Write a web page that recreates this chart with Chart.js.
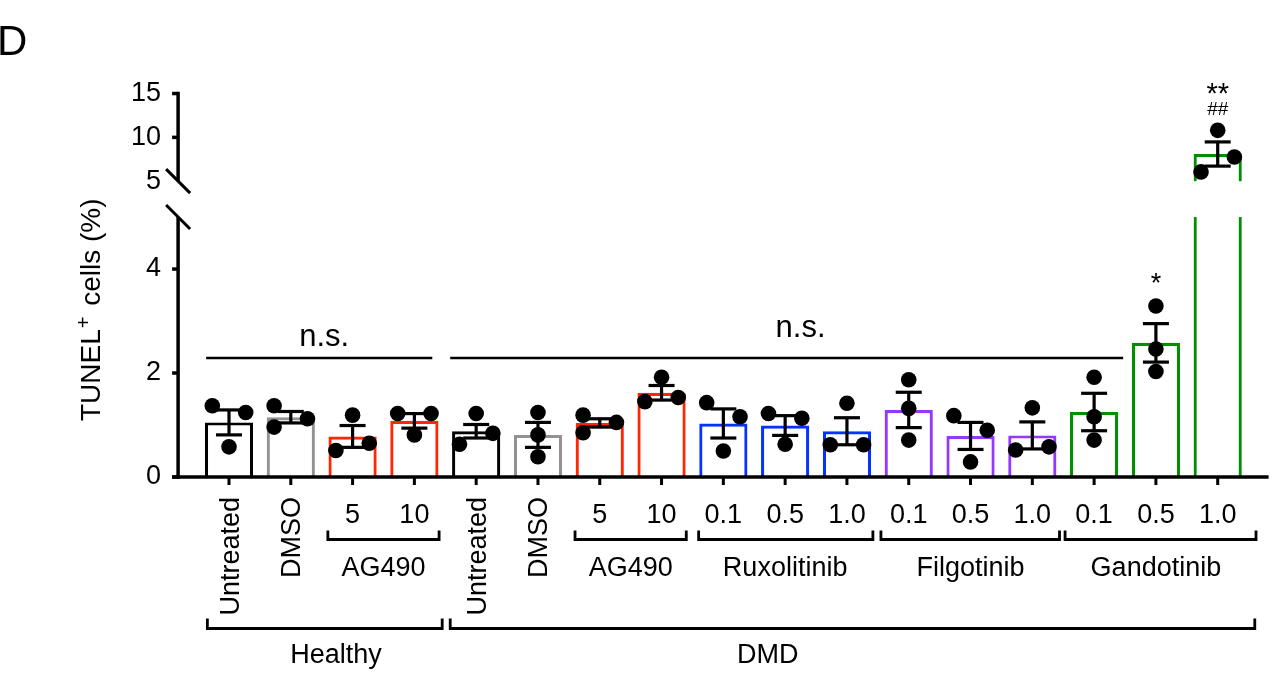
<!DOCTYPE html>
<html>
<head>
<meta charset="utf-8">
<script src="https://cdn.jsdelivr.net/npm/chart.js@4.4.1/dist/chart.umd.min.js"></script>
<style>
  html, body { margin: 0; padding: 0; background: #fff; }
  #wrap { width: 1276px; height: 679px; position: relative; }
</style>
</head>
<body>
<div id="wrap"><canvas id="chart"></canvas></div>
<script>
// ---- data ----
const categories = ['Untreated', 'DMSO', '5', '10', 'Untreated', 'DMSO', '5', '10',
    '0.1', '0.5', '1.0', '0.1', '0.5', '1.0', '0.1', '0.5', '1.0'];
const means = [1.05, 1.15, 0.78, 1.08, 0.88, 0.81, 1.04, 1.62, 1.03, 0.99, 0.88, 1.29, 0.79, 0.80, 1.25, 2.58, 8.1];
const sems = [0.24, 0.11, 0.21, 0.14, 0.13, 0.24, 0.08, 0.14, 0.28, 0.19, 0.26, 0.34, 0.26, 0.26, 0.36, 0.37, 1.38];
const replicates = [
    [1.37, 1.24, 0.58], [1.37, 1.12, 0.96], [1.19, 0.51, 0.65], [1.22, 1.22, 0.81],
    [1.22, 0.63, 0.84], [1.24, 0.81, 0.39], [0.85, 1.05, 1.19], [1.92, 1.45, 1.53],
    [1.43, 1.16, 0.50], [1.22, 1.13, 0.63], [1.42, 0.62, 0.62], [1.87, 1.32, 0.71],
    [1.18, 0.90, 0.29], [1.33, 0.52, 0.58], [1.92, 1.16, 0.71], [3.29, 2.46, 2.03],
    [10.8, 6.06, 7.76]
];
const yTicks = [0, 2, 4, 5, 10, 15];
const doseGroups = [
    { name: 'AG490', from: 1.6, to: 3.4, labelAt: 2.5 },
    { name: 'AG490', from: 5.6, to: 7.4, labelAt: 6.5 },
    { name: 'Ruxolitinib', from: 7.6, to: 10.42, labelAt: 9 },
    { name: 'Filgotinib', from: 10.55, to: 13.44, labelAt: 12 },
    { name: 'Gandotinib', from: 13.53, to: 16.62, labelAt: 15 }
];
const cohorts = [
    { name: 'Healthy', from: -0.35, to: 3.45, labelAt: 1.73 },
    { name: 'DMD', from: 3.58, to: 16.6, labelAt: 8.72 }
];
const nsLines = [
    { from: -0.37, to: 3.29, at: 2.29, textAt: 1.54, textY: 2.52 },
    { from: 3.58, to: 14.47, at: 2.29, textAt: 9.25, textY: 2.69 }
];
const marks = [
    { idx: 15, text: '*', y: 3.83, size: 27 },
    { idx: 16, text: '**', y: 15.6, size: 29 },
    { idx: 16, text: '##', y: 13.3, size: 19 }
];

const barColors = ['#000000', '#929292', '#FF2600', '#FF2600', '#000000', '#929292', '#FF2600', '#FF2600',
    '#0433FF', '#0433FF', '#0433FF', '#9437FF', '#9437FF', '#9437FF', '#008F00', '#008F00', '#008F00'];

// broken y axis: 0-5 at full scale, 5-15 compressed above a gap
const BREAK_LOW = 5;
const UPPER_BASE = 5.69;
const UPPER_SCALE = 0.1686;
const tf = v => v < BREAK_LOW ? v : UPPER_BASE + (v - BREAK_LOW) * UPPER_SCALE;

const FONT = '"Liberation Sans", Arial, Helvetica, sans-serif';
const font = (size, weight) => (weight || 'normal') + ' ' + size + 'px ' + FONT;

function centeredText(ctx, text, x, cy) {
    ctx.textAlign = 'center';
    ctx.textBaseline = 'alphabetic';
    const m = ctx.measureText(text);
    ctx.fillText(text, x, cy + (m.actualBoundingBoxAscent - m.actualBoundingBoxDescent) / 2);
}

function line(ctx, x1, y1, x2, y2) {
    ctx.beginPath();
    ctx.moveTo(x1, y1);
    ctx.lineTo(x2, y2);
    ctx.stroke();
}

// spread replicate dots that would overlap into side columns
function dotColumns(py) {
    const order = py.map((v, k) => k).sort((a, b) => py[a] - py[b]);
    const cols = py.map(() => 0);
    let cluster = [order[0]];
    const flush = () => {
        if (cluster.length > 1) {
            cluster.sort((a, b) => a - b).forEach((k, j) => cols[k] = j % 2 === 0 ? -1 : 1);
        }
    };
    for (let j = 1; j < order.length; j++) {
        if (py[order[j]] - py[order[j - 1]] < 17) cluster.push(order[j]);
        else { flush(); cluster = [order[j]]; }
    }
    flush();
    return cols;
}

const figurePlugin = {
    id: 'figure',
    afterDatasetsDraw(chart) {
        const ctx = chart.ctx;
        const xs = chart.scales.x, ys = chart.scales.y;
        const X = i => xs.getPixelForValue(i);
        const Y = v => ys.getPixelForValue(tf(v));
        const gapTop = ys.getPixelForValue(UPPER_BASE);
        const gapBottom = ys.getPixelForValue(BREAK_LOW);
        const bars = chart.getDatasetMeta(0).data;
        const catW = X(1) - X(0);

        ctx.save();
        // cut bars crossing the break
        bars.forEach((bar, i) => {
            if (means[i] > BREAK_LOW) {
                ctx.fillStyle = '#fff';
                ctx.fillRect(bar.x - bar.width / 2 - 3, gapTop, bar.width + 6, gapBottom - gapTop);
            }
        });

        ctx.strokeStyle = '#000';
        ctx.fillStyle = '#000';
        ctx.lineWidth = 3.2;
        means.forEach((m, i) => {
            const x = X(i);
            const top = Y(m + sems[i]), bot = Y(m - sems[i]);
            line(ctx, x, top, x, bot);
            line(ctx, x - 13, top, x + 13, top);
            line(ctx, x - 13, bot, x + 13, bot);

            const py = replicates[i].map(Y);
            const cols = dotColumns(py);
            py.forEach((y, k) => {
                ctx.beginPath();
                ctx.arc(x + cols[k] * catW * 0.27, y, 7.8, 0, Math.PI * 2);
                ctx.fill();
            });
        });
        ctx.restore();
    },
    afterDraw(chart) {
        const ctx = chart.ctx;
        const area = chart.chartArea;
        const xs = chart.scales.x, ys = chart.scales.y;
        const X = i => xs.getPixelForValue(i);
        const Y = v => ys.getPixelForValue(tf(v));
        const gapTop = ys.getPixelForValue(UPPER_BASE);
        const gapBottom = ys.getPixelForValue(BREAK_LOW);
        const ax = area.left - 20;
        const base = Y(0);

        ctx.save();
        ctx.strokeStyle = '#000';
        ctx.fillStyle = '#000';
        ctx.lineCap = 'butt';

        // y axis with break
        ctx.lineWidth = 3.5;
        line(ctx, ax, base + 1.75, ax, gapBottom);
        line(ctx, ax, gapTop, ax, Y(15) - 1.75);
        yTicks.forEach(v => {
            if (v !== BREAK_LOW) line(ctx, ax - 6, Y(v), ax, Y(v));
        });
        ctx.lineWidth = 3;
        line(ctx, ax - 12, gapTop - 12, ax + 12, gapTop + 12);
        line(ctx, ax - 12, gapBottom - 12, ax + 12, gapBottom + 12);

        // x axis
        ctx.lineWidth = 3.5;
        line(ctx, ax - 6, base, area.right + 20, base);
        ctx.lineWidth = 3;
        categories.forEach((c, i) => line(ctx, X(i), base, X(i), base + 8));

        // category labels
        ctx.font = font(27);
        categories.forEach((c, i) => {
            if (isNaN(parseFloat(c))) {
                ctx.save();
                ctx.translate(X(i), base + 20);
                ctx.rotate(-Math.PI / 2);
                ctx.textAlign = 'right';
                ctx.textBaseline = 'alphabetic';
                const m = ctx.measureText(c);
                ctx.fillText(c, 0, (m.actualBoundingBoxAscent - m.actualBoundingBoxDescent) / 2);
                ctx.restore();
            } else {
                centeredText(ctx, c, X(i), base + 36.5);
            }
        });

        // brackets
        const catW = X(1) - X(0);
        const P = v => X(0) + v * catW;
        ctx.lineWidth = 2.8;
        doseGroups.forEach(g => {
            const y = base + 62.5;
            ctx.beginPath();
            ctx.moveTo(P(g.from), y - 9);
            ctx.lineTo(P(g.from), y);
            ctx.lineTo(P(g.to), y);
            ctx.lineTo(P(g.to), y - 9);
            ctx.stroke();
            ctx.textAlign = 'center';
            ctx.textBaseline = 'alphabetic';
            ctx.fillText(g.name, P(g.labelAt), base + 99);
        });
        cohorts.forEach(g => {
            const y = base + 151.5;
            ctx.beginPath();
            ctx.moveTo(P(g.from), y - 10);
            ctx.lineTo(P(g.from), y);
            ctx.lineTo(P(g.to), y);
            ctx.lineTo(P(g.to), y - 10);
            ctx.stroke();
            ctx.textAlign = 'center';
            ctx.textBaseline = 'alphabetic';
            ctx.fillText(g.name, P(g.labelAt), base + 186);
        });

        // n.s. lines
        ctx.lineWidth = 2.4;
        ctx.font = font(31);
        nsLines.forEach(n => {
            line(ctx, P(n.from), Y(n.at), P(n.to), Y(n.at));
            ctx.textAlign = 'center';
            ctx.textBaseline = 'alphabetic';
            ctx.fillText('n.s.', P(n.textAt), Y(n.textY));
        });

        // significance marks
        marks.forEach(s => {
            ctx.font = font(s.size);
            centeredText(ctx, s.text, X(s.idx), Y(s.y));
        });

        // y title with superscript
        ctx.save();
        ctx.translate(100, 421);
        ctx.rotate(-Math.PI / 2);
        ctx.textAlign = 'left';
        ctx.textBaseline = 'alphabetic';
        ctx.font = font(28);
        ctx.fillText('TUNEL', 0, 0);
        let w = ctx.measureText('TUNEL').width;
        ctx.font = font(20);
        ctx.fillText('+', w + 1, -10);
        w += ctx.measureText('+').width + 1;
        ctx.font = font(28);
        ctx.fillText(' cells (%)', w + 3, 0);
        ctx.restore();

        // panel letter
        ctx.font = font(42);
        ctx.textAlign = 'left';
        ctx.textBaseline = 'alphabetic';
        ctx.fillText('D', -3, 55);
        ctx.restore();
    }
};

new Chart(document.getElementById('chart'), {
    type: 'bar',
    data: {
        labels: categories,
        datasets: [{
            data: means.map(tf),
            backgroundColor: '#ffffff',
            borderColor: barColors,
            borderWidth: 3.2,
            barPercentage: 0.78,
            categoryPercentage: 1.0
        }]
    },
    options: {
        responsive: true,
        maintainAspectRatio: false,
        animation: false,
        layout: { padding: { top: 76, bottom: 202, left: 0, right: 27.4 } },
        plugins: {
            legend: { display: false },
            tooltip: { enabled: false }
        },
        scales: {
            x: {
                display: false,
                offset: true
            },
            y: {
                min: 0,
                max: tf(17),
                afterFit: s => { s.width = 198.1; },
                afterBuildTicks: s => { s.ticks = yTicks.map(v => ({ value: tf(v) })); },
                grid: { display: false, drawTicks: false },
                border: { display: false },
                ticks: {
                    autoSkip: false,
                    padding: 37,
                    color: '#000',
                    font: { family: FONT, size: 27 },
                    callback: (v, i) => yTicks[i]
                }
            }
        }
    },
    plugins: [figurePlugin]
});
</script>
</body>
</html>
